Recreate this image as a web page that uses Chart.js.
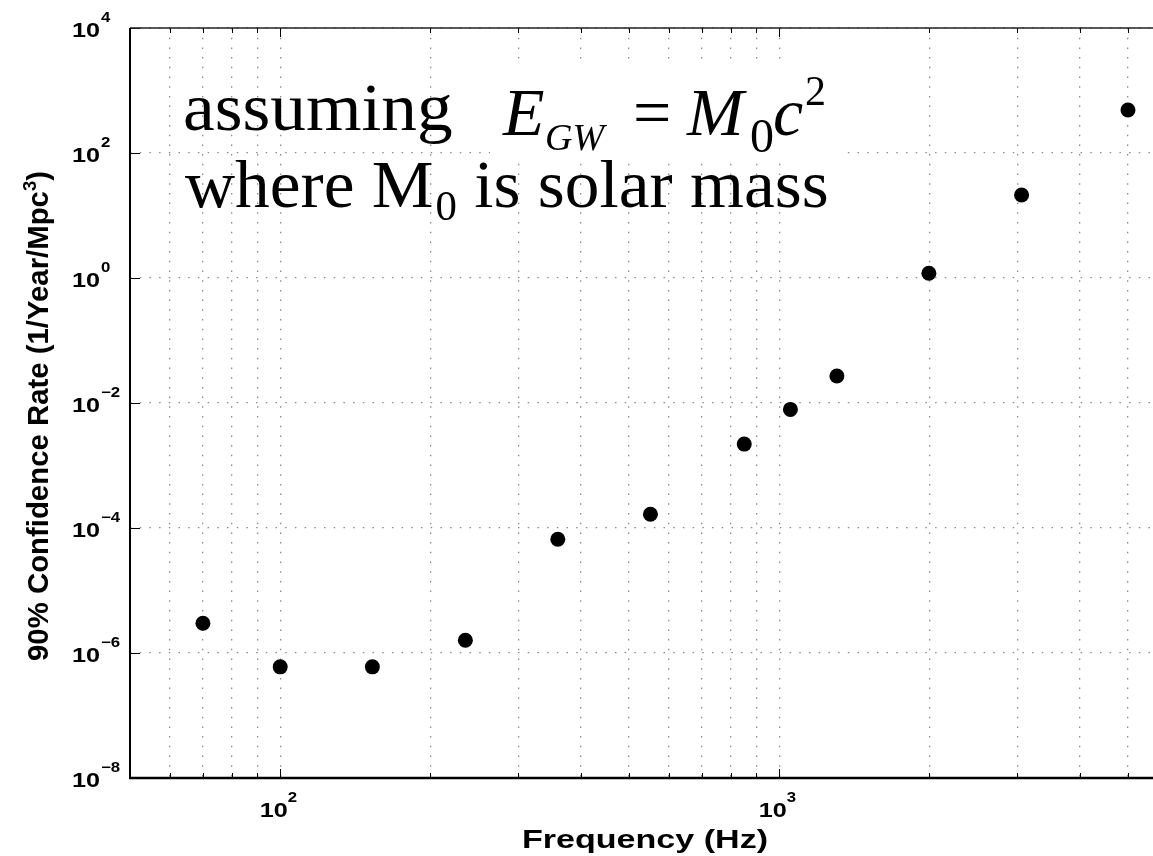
<!DOCTYPE html>
<html>
<head>
<meta charset="utf-8">
<script src="https://cdn.jsdelivr.net/npm/chart.js@4/dist/chart.umd.min.js"></script>
<style>
  html, body { margin: 0; padding: 0; background: #fff; overflow: hidden; }
  #wrap { width: 1175px; height: 856px; }
</style>
</head>
<body>
<div id="wrap"><canvas id="rateChart"></canvas></div>
<script>
// upper limit rate per frequency band
const freqHz = [70, 100, 153, 235, 360, 552, 851, 1053, 1305, 1995, 3060, 5000];
const rate90 = [3.0e-6, 6.0e-7, 6.0e-7, 1.6e-6, 6.6e-5, 1.66e-4, 2.2e-3, 7.9e-3, 2.7e-2, 1.19, 21.3, 488];

// grid / tick positions
const xTicks = [60, 70, 80, 90, 100, 200, 300, 400, 500, 600, 700, 800, 900, 1000, 2000, 3000, 4000, 5000];
const xLabelTicks = [100, 1000];
const yTicks = [1e-8, 1e-6, 1e-4, 1e-2, 1, 1e2, 1e4];

const xTitle = "Frequency (Hz)";
const yTitle = ["90% Confidence Rate (1/Year/Mpc", "3", ")"];
const noteLine1 = "assuming";
const noteLine2 = ["where M", "0", " is solar mass"];

const SANS = '"Liberation Sans", Arial, sans-serif';
const SERIF = '"Liberation Serif", "Times New Roman", serif';

function put(ctx, s, x, y, font, sx = 1, align = "left") {
  ctx.save();
  ctx.font = font;
  ctx.textAlign = align;
  ctx.textBaseline = "alphabetic";
  ctx.translate(x, y);
  ctx.scale(sx, 1);
  ctx.fillText(s, 0, 0);
  const w = ctx.measureText(s).width * sx;
  ctx.restore();
  return w;
}

function expText(v) {
  const e = Math.round(Math.log10(v));
  return e < 0 ? "\u2212" + Math.abs(e) : String(e);
}

// axes box, inward ticks, labels and the note
const frame = {
  id: "frame",
  afterDraw(chart) {
    const { ctx, chartArea: a, scales } = chart;
    const x = scales.x, y = scales.y;
    ctx.save();
    ctx.fillStyle = "#000";
    ctx.strokeStyle = "#000";

    // tick marks
    ctx.lineWidth = 1;
    xTicks.forEach(v => {
      const px = Math.round(x.getPixelForValue(v)) + 0.5;
      const len = xLabelTicks.includes(v) ? 9 : 5;
      ctx.beginPath();
      ctx.moveTo(px, a.bottom); ctx.lineTo(px, a.bottom - len);
      ctx.moveTo(px, a.top); ctx.lineTo(px, a.top + len);
      ctx.stroke();
    });
    yTicks.forEach(v => {
      const py = Math.round(y.getPixelForValue(v)) + 0.5;
      ctx.beginPath();
      ctx.moveTo(a.left, py); ctx.lineTo(a.left + 10, py);
      ctx.stroke();
    });

    // box
    ctx.strokeStyle = "#222";
    ctx.lineWidth = 1.5;
    ctx.beginPath(); ctx.moveTo(a.left, a.top); ctx.lineTo(a.right, a.top); ctx.stroke();
    ctx.strokeStyle = "#000";
    ctx.lineWidth = 2;
    ctx.beginPath(); ctx.moveTo(a.left, a.top); ctx.lineTo(a.left, a.bottom); ctx.stroke();
    ctx.lineWidth = 2.5;
    ctx.beginPath(); ctx.moveTo(a.left - 1, a.bottom); ctx.lineTo(a.right, a.bottom); ctx.stroke();

    // tick labels
    const big = "bold 21px " + SANS, small = "bold 14px " + SANS;
    yTicks.forEach(v => {
      const py = y.getPixelForValue(v);
      put(ctx, "10", a.left - 30, py + 9, big, 1.2, "right");
      put(ctx, expText(v), a.left - 29, py - 6, small, 1.2);
    });
    xLabelTicks.forEach(v => {
      const px = x.getPixelForValue(v);
      put(ctx, "10", px + 7.5, 817, big, 1.2, "right");
      put(ctx, expText(v), px + 7.5, 802, small, 1.2);
    });

    // axis titles
    const tf = "bold 25px " + SANS;
    ctx.font = tf;
    const tw = ctx.measureText(xTitle).width;
    put(ctx, xTitle, 645, 848, tf, 246 / tw, "center");

    ctx.save();
    ctx.translate(48, 416);
    ctx.rotate(-Math.PI / 2);
    const yf = "bold 27px " + SANS, ys = "bold 17px " + SANS;
    ctx.font = yf;
    const w0 = ctx.measureText(yTitle[0]).width;
    const w2 = ctx.measureText(yTitle[2]).width;
    ctx.font = ys;
    const w1 = ctx.measureText(yTitle[1]).width;
    const total = w0 + w1 + w2;
    const sAlong = 490 / total;
    ctx.scale(sAlong, 1.08);
    let cx = -total / 2;
    ctx.font = yf; ctx.fillText(yTitle[0], cx, 0); cx += w0;
    ctx.font = ys; ctx.fillText(yTitle[1], cx, -11); cx += w1;
    ctx.font = yf; ctx.fillText(yTitle[2], cx, 0);
    ctx.restore();

    // note: the formula sits on an opaque patch, the words do not
    ctx.fillStyle = "#fff";
    ctx.fillRect(490, 60, 353, 100);
    ctx.fillStyle = "#000";

    const n68 = "68px " + SERIF, i68 = "italic 68px " + SERIF;
    put(ctx, noteLine1, 183, 130, n68, 1.05);
    let nx = 185;
    nx += put(ctx, noteLine2[0], nx, 207, n68, 1.02);
    nx += put(ctx, noteLine2[1], nx + 2, 220, "42px " + SERIF, 1.02) + 2;
    put(ctx, noteLine2[2], nx, 207, n68, 1.02);

    put(ctx, "E", 503, 135, i68);
    put(ctx, "GW", 545, 150, "italic 38px " + SERIF);
    put(ctx, "=", 633, 135, n68);
    put(ctx, "M", 687, 135, i68);
    put(ctx, "0", 750, 152, "48px " + SERIF);
    put(ctx, "c", 773, 135, i68);
    put(ctx, "2", 805, 105, "42px " + SERIF);

    ctx.restore();
  }
};

const gridStyle = { color: "#8a8a8a", lineWidth: 1.3, drawTicks: false };
const dotted = { display: false, dash: [1.5, 8.2] };

new Chart(document.getElementById("rateChart"), {
  type: "scatter",
  data: {
    datasets: [{
      data: freqHz.map((f, i) => ({ x: f, y: rate90[i] })),
      backgroundColor: "#000",
      borderWidth: 0,
      pointRadius: 7.5,
      pointHoverRadius: 7.5
    }]
  },
  options: {
    responsive: true,
    maintainAspectRatio: false,
    animation: false,
    events: [],
    layout: { padding: { left: 130, top: 28, right: 2, bottom: 78 } },
    plugins: { legend: { display: false }, tooltip: { enabled: false } },
    scales: {
      x: {
        type: "logarithmic",
        min: 50,
        max: 6000,
        afterBuildTicks: s => { s.ticks = xTicks.map(v => ({ value: v })); },
        ticks: { display: false },
        grid: gridStyle,
        border: dotted
      },
      y: {
        type: "logarithmic",
        min: 1e-8,
        max: 1e4,
        afterBuildTicks: s => { s.ticks = yTicks.map(v => ({ value: v })); },
        ticks: { display: false },
        grid: gridStyle,
        border: dotted
      }
    }
  },
  plugins: [frame]
});
</script>
</body>
</html>
